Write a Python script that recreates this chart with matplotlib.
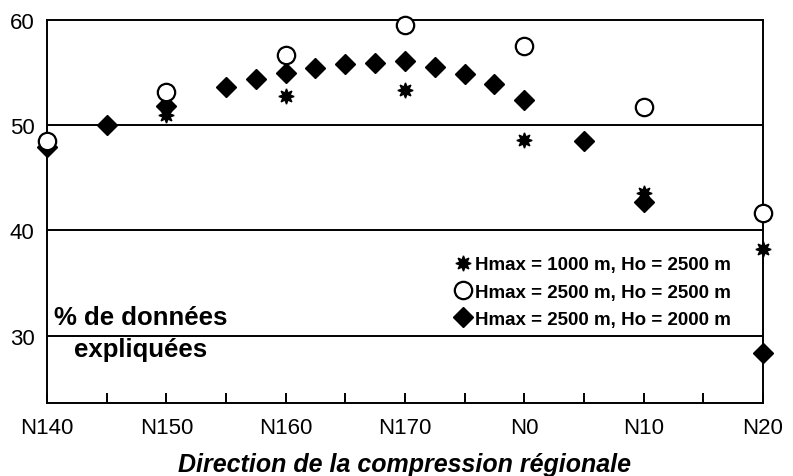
import matplotlib.pyplot as plt
import numpy as np

plt.rcParams['font.family'] = ['Liberation Sans', 'DejaVu Sans']

# azimut de la compression (N180 = N0, N190 = N10, N200 = N20)
x_ticks = [140, 145, 150, 155, 160, 165, 170, 175, 180, 185, 190, 195, 200]
x_labels = ['N140', '', 'N150', '', 'N160', '', 'N170', '', 'N0', '', 'N10', '', 'N20']
y_ticks = [30, 40, 50, 60]

# Hmax = 1000 m, Ho = 2500 m
x_star = [150, 160, 170, 180, 190, 200]
y_star = [51.0, 52.8, 53.3, 48.6, 43.6, 38.2]

# Hmax = 2500 m, Ho = 2500 m
x_circ = [140, 150, 160, 170, 180, 190, 200]
y_circ = [48.5, 53.2, 56.7, 59.5, 57.5, 51.7, 41.7]

# Hmax = 2500 m, Ho = 2000 m
x_diam = [140, 145, 150, 155, 157.5, 160, 162.5, 165, 167.5, 170, 172.5,
          175, 177.5, 180, 185, 190, 200]
y_diam = [47.9, 50.0, 51.8, 53.6, 54.4, 55.0, 55.4, 55.8, 55.9, 56.1, 55.5,
          54.9, 53.9, 52.4, 48.5, 42.7, 28.4]

fig = plt.figure(figsize=(7.93, 4.77), dpi=100)
ax = fig.add_axes([0.0593, 0.153, 0.9027, 0.803])

for y in [30, 40, 50]:
    ax.axhline(y, color='black', lw=1.4, zorder=1)

ax.plot(x_diam, y_diam, 'D', color='black', ms=10, ls='none', clip_on=False, zorder=3,
        label='Hmax = 2500 m, Ho = 2000 m')
ax.plot(x_circ, y_circ, 'o', mfc='white', mec='black', mew=1.6, ms=12.5, ls='none',
        clip_on=False, zorder=4, label='Hmax = 2500 m, Ho = 2500 m')
ax.plot(x_star, y_star, marker=(8, 1, 0), color='black', ms=11, ls='none',
        clip_on=False, zorder=5, label='Hmax = 1000 m, Ho = 2500 m')

ax.set_xlim(140, 200)
ax.set_ylim(23.6, 60)
ax.set_xticks(x_ticks)
ax.set_xticklabels(x_labels, fontsize=16)
ax.set_yticks(y_ticks)
ax.set_yticklabels([str(v) for v in y_ticks], fontsize=16)
ax.tick_params(axis='x', direction='in', length=7, width=1.4, pad=10)
ax.tick_params(axis='y', length=0, pad=9)
for s in ax.spines.values():
    s.set_linewidth(1.4)

ax.set_xlabel('Direction de la compression régionale', fontsize=18,
              fontweight='bold', fontstyle='italic', labelpad=10)

ax.text(0.131, 0.183, '% de données\nexpliquées', transform=ax.transAxes,
        fontsize=18.5, fontweight='bold', ha='center', va='center', linespacing=1.4)

h, l = ax.get_legend_handles_labels()
ax.legend(h[::-1], l[::-1], loc='center right', bbox_to_anchor=(0.955, 0.29),
          frameon=False, prop={'weight': 'bold', 'size': 13.5}, handlelength=0.9,
          handletextpad=0.2, labelspacing=0.55, borderpad=0, borderaxespad=0)

fig.savefig('out.png', dpi=100)
